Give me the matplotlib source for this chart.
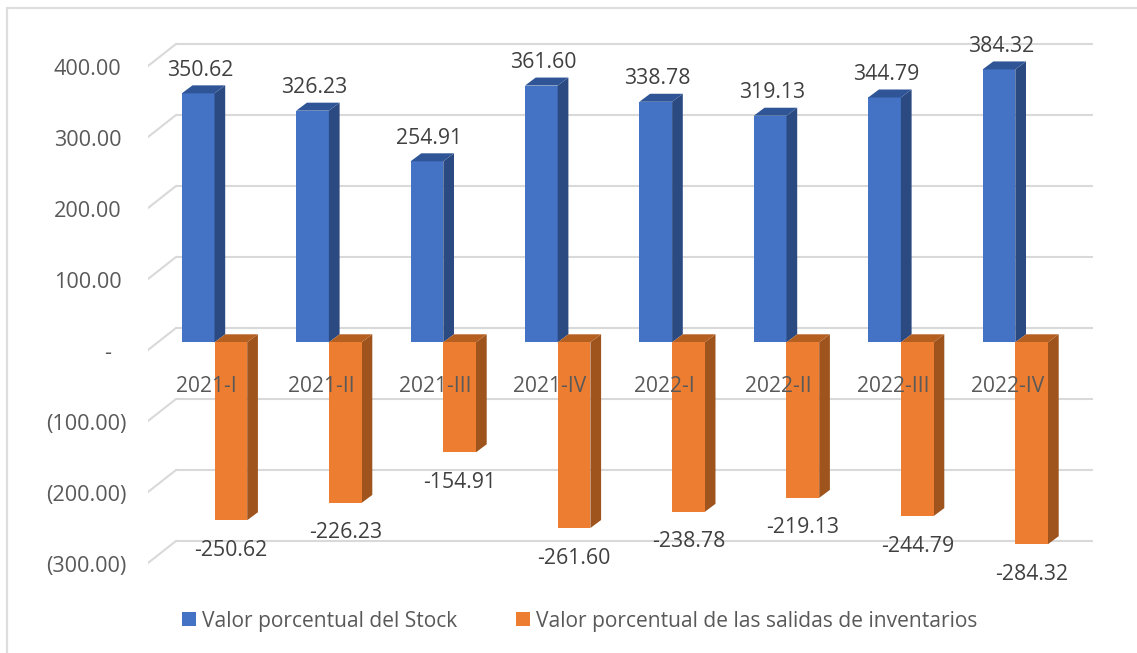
import matplotlib
matplotlib.use("Agg")
import matplotlib.pyplot as plt
from matplotlib.lines import Line2D
from matplotlib.transforms import Affine2D

periods = ["2021-I", "2021-II", "2021-III", "2021-IV", "2022-I", "2022-II", "2022-III", "2022-IV"]
stock = [350.62, 326.23, 254.91, 361.60, 338.78, 319.13, 344.79, 384.32]
salidas = [-250.62, -226.23, -154.91, -261.60, -238.78, -219.13, -244.79, -284.32]
tick_values = [400, 300, 200, 100, 0, -100, -200, -300]
tick_labels = ["400.00", "300.00", "200.00", "100.00", "-", "(100.00)", "(200.00)", "(300.00)"]
series_names = ["Valor porcentual del Stock", "Valor porcentual de las salidas de inventarios"]

W, H = 1137, 653
PX_X = 114.4      # px per category
PX_Y = 0.71       # px per value unit
ZERO_PX = 342.3
X0_PX = 206.5
L_PX, R_PX = 148, 1093

plt.rcParams["font.family"] = ["Open Sans", "DejaVu Sans"]
fig = plt.figure(figsize=(W / 100, H / 100), dpi=100)
ax = fig.add_axes([L_PX / W, 0, (R_PX - L_PX) / W, 1])
ax.set_xlim((L_PX - X0_PX) / PX_X, (R_PX - X0_PX) / PX_X)
ax.set_ylim(-(H - ZERO_PX) / PX_Y, ZERO_PX / PX_Y)
for s in ax.spines.values():
    s.set_visible(False)
ax.patch.set_alpha(0)

# chart frame: only the top and left edges fall inside the picture
fig.add_artist(Line2D([6.5 / W, 6.5 / W, 1], [0, 1 - 7.5 / H, 1 - 7.5 / H], transform=fig.transFigure,
                      color="#DEDEDE", lw=1.6, solid_joinstyle="miter"))

# gridlines: back wall + floor diagonal
GRID = "#D9D9D9"
back_dy = (ZERO_PX - 328) / PX_Y
front_dy = (350 - ZERO_PX) / PX_Y
back_x0 = (176 - X0_PX) / PX_X
for v in tick_values:
    ax.plot([back_x0, ax.get_xlim()[1]], [v + back_dy] * 2, color=GRID, lw=1.5, zorder=1, solid_capstyle="butt")
    ax.plot([ax.get_xlim()[0], back_x0], [v - front_dy, v + back_dy], color=GRID, lw=1.5, zorder=1)

# 3-D bars
bw = 32.7 / PX_X
dx = 10.7 / PX_X
dy = 8.0 / PX_Y
shift = 8.0 / PX_X
xs = list(range(len(periods)))
blue_x = [x + shift - bw for x in xs]
orange_x = [x + shift for x in xs]


def depth(left, val, side_c, top_c, z):
    right = left + bw
    top = max(val, 0)
    bottom = min(val, 0)
    ax.fill([right, right + dx, right + dx, right], [bottom, bottom + dy, top + dy, top], color=side_c, lw=0, zorder=z)
    ax.fill([left, left + dx, right + dx, right], [top, top + dy, top + dy, top], color=top_c, lw=0, zorder=z)


h1 = ax.bar(blue_x, stock, bw, align="edge", color="#4472C4", zorder=2, label=series_names[0])
for left, v in zip(blue_x, stock):
    depth(left, v, "#2B4A82", "#2F5597", 2)
for left, v in zip(orange_x, salidas):
    depth(left, v, "#9E541C", "#B55F20", 2.2)
h2 = ax.bar(orange_x, salidas, bw, align="edge", color="#ED7D31", zorder=2.3, label=series_names[1])

# axes tick labels
ax.set_axisbelow(False)
ax.set_yticks([v - front_dy for v in tick_values], tick_labels)
ax.set_xticks(xs, periods)
ax.spines["bottom"].set_position(("data", -(380 - ZERO_PX) / PX_Y))
ax.tick_params(axis="both", length=0, labelcolor="#595959")
ax.tick_params(axis="y", pad=19, labelsize=15.6)
ax.tick_params(axis="x", pad=5, labelsize=15.1)
for t in ax.get_xticklabels():
    t.set_verticalalignment("center")
for t, lab in zip(ax.get_yticklabels(), tick_labels):
    sx = 5 if lab.startswith("(") else (-10 if lab == "-" else 0)
    t.set_transform(t.get_transform() + Affine2D().translate(sx, -1))

# data labels
for left, v in zip(blue_x, stock):
    ax.annotate(f"{v:.2f}", (left + bw / 2, v), xytext=(2, 23), textcoords="offset pixels",
                ha="center", va="center", fontsize=15.3, color="#404040", zorder=5)
for left, v in zip(orange_x, salidas):
    ax.annotate(f"{v:.2f}", (left + bw / 2, v), xytext=(0, -30), textcoords="offset pixels",
                ha="center", va="center", fontsize=15.3, color="#404040", zorder=5)

ax.legend(handles=[h1, h2], loc="center left", bbox_to_anchor=(182 / W, 1 - 621 / H),
          bbox_transform=fig.transFigure, ncol=2, frameon=False, fontsize=15.1, labelcolor="#595959",
          handlelength=0.667, handleheight=0.667, handletextpad=0.29, columnspacing=2.8,
          borderpad=0, borderaxespad=0)

fig.savefig("out.png", dpi=100, facecolor="white")
